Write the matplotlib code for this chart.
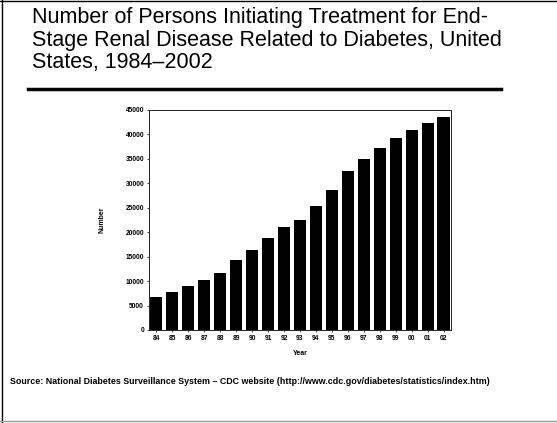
import matplotlib
matplotlib.use('Agg')
import matplotlib.pyplot as plt
from matplotlib.lines import Line2D

years = ['84', '85', '86', '87', '88', '89', '90', '91', '92', '93',
         '94', '95', '96', '97', '98', '99', '00', '01', '02']
persons = [6700, 7800, 8900, 10300, 11700, 14300, 16300, 18800, 21000, 22500,
           25400, 28600, 32600, 35000, 37200, 39300, 41000, 42300, 43500]
yticks = [0, 5000, 10000, 15000, 20000, 25000, 30000, 35000, 40000, 45000]

plt.rcParams['font.family'] = ['Liberation Sans', 'DejaVu Sans']

fig = plt.figure(figsize=(5.57, 4.23), dpi=100)

# slide title
fig.text(0.057, 0.983, 'Number of Persons Initiating Treatment for End-\n'
         'Stage Renal Disease Related to Diabetes, United\nStates, 1984\u20132002',
         ha='left', va='top', fontsize=15.5, linespacing=1.1)
fig.add_artist(Line2D([0.05, 0.90], [0.79, 0.79], color='black', lw=2.5))

# slide frame
fig.add_artist(Line2D([0.004, 0.004], [0.0, 1.0], color='black', lw=1))
fig.add_artist(Line2D([0.0, 1.0], [0.997, 0.997], color='black', lw=1))
fig.add_artist(Line2D([0.0, 1.0], [0.004, 0.004], color='0.6', lw=1))

ax = fig.add_axes([0.2675, 0.22, 0.542, 0.52])
x = range(len(years))
ax.bar(x, persons, width=0.78, color='black')
ax.set_xticks(list(x))
ax.set_xticklabels(years, fontsize=4.8, fontweight='bold')
ax.set_yticks(yticks)
ax.set_yticklabels([str(v) for v in yticks], fontsize=4.8, fontweight='bold')
ax.set_xlim(-0.45, 18.45)
ax.set_ylim(0, 45000)
ax.tick_params(length=1.5, width=0.5, pad=2)
for s in ax.spines.values():
    s.set_linewidth(0.6)
    s.set_linestyle((0, (1, 1)))
ax.set_xlabel('Year', fontsize=5, fontweight='bold', labelpad=6)
ax.set_ylabel('Number', fontsize=5, fontweight='bold', labelpad=14)

fig.text(0.018, 0.097, 'Source: National Diabetes Surveillance System \u2013 CDC website '
         '(http://www.cdc.gov/diabetes/statistics/index.htm)',
         ha='left', va='center', fontsize=6.4, fontweight='bold')

fig.savefig('out.png', dpi=100)
